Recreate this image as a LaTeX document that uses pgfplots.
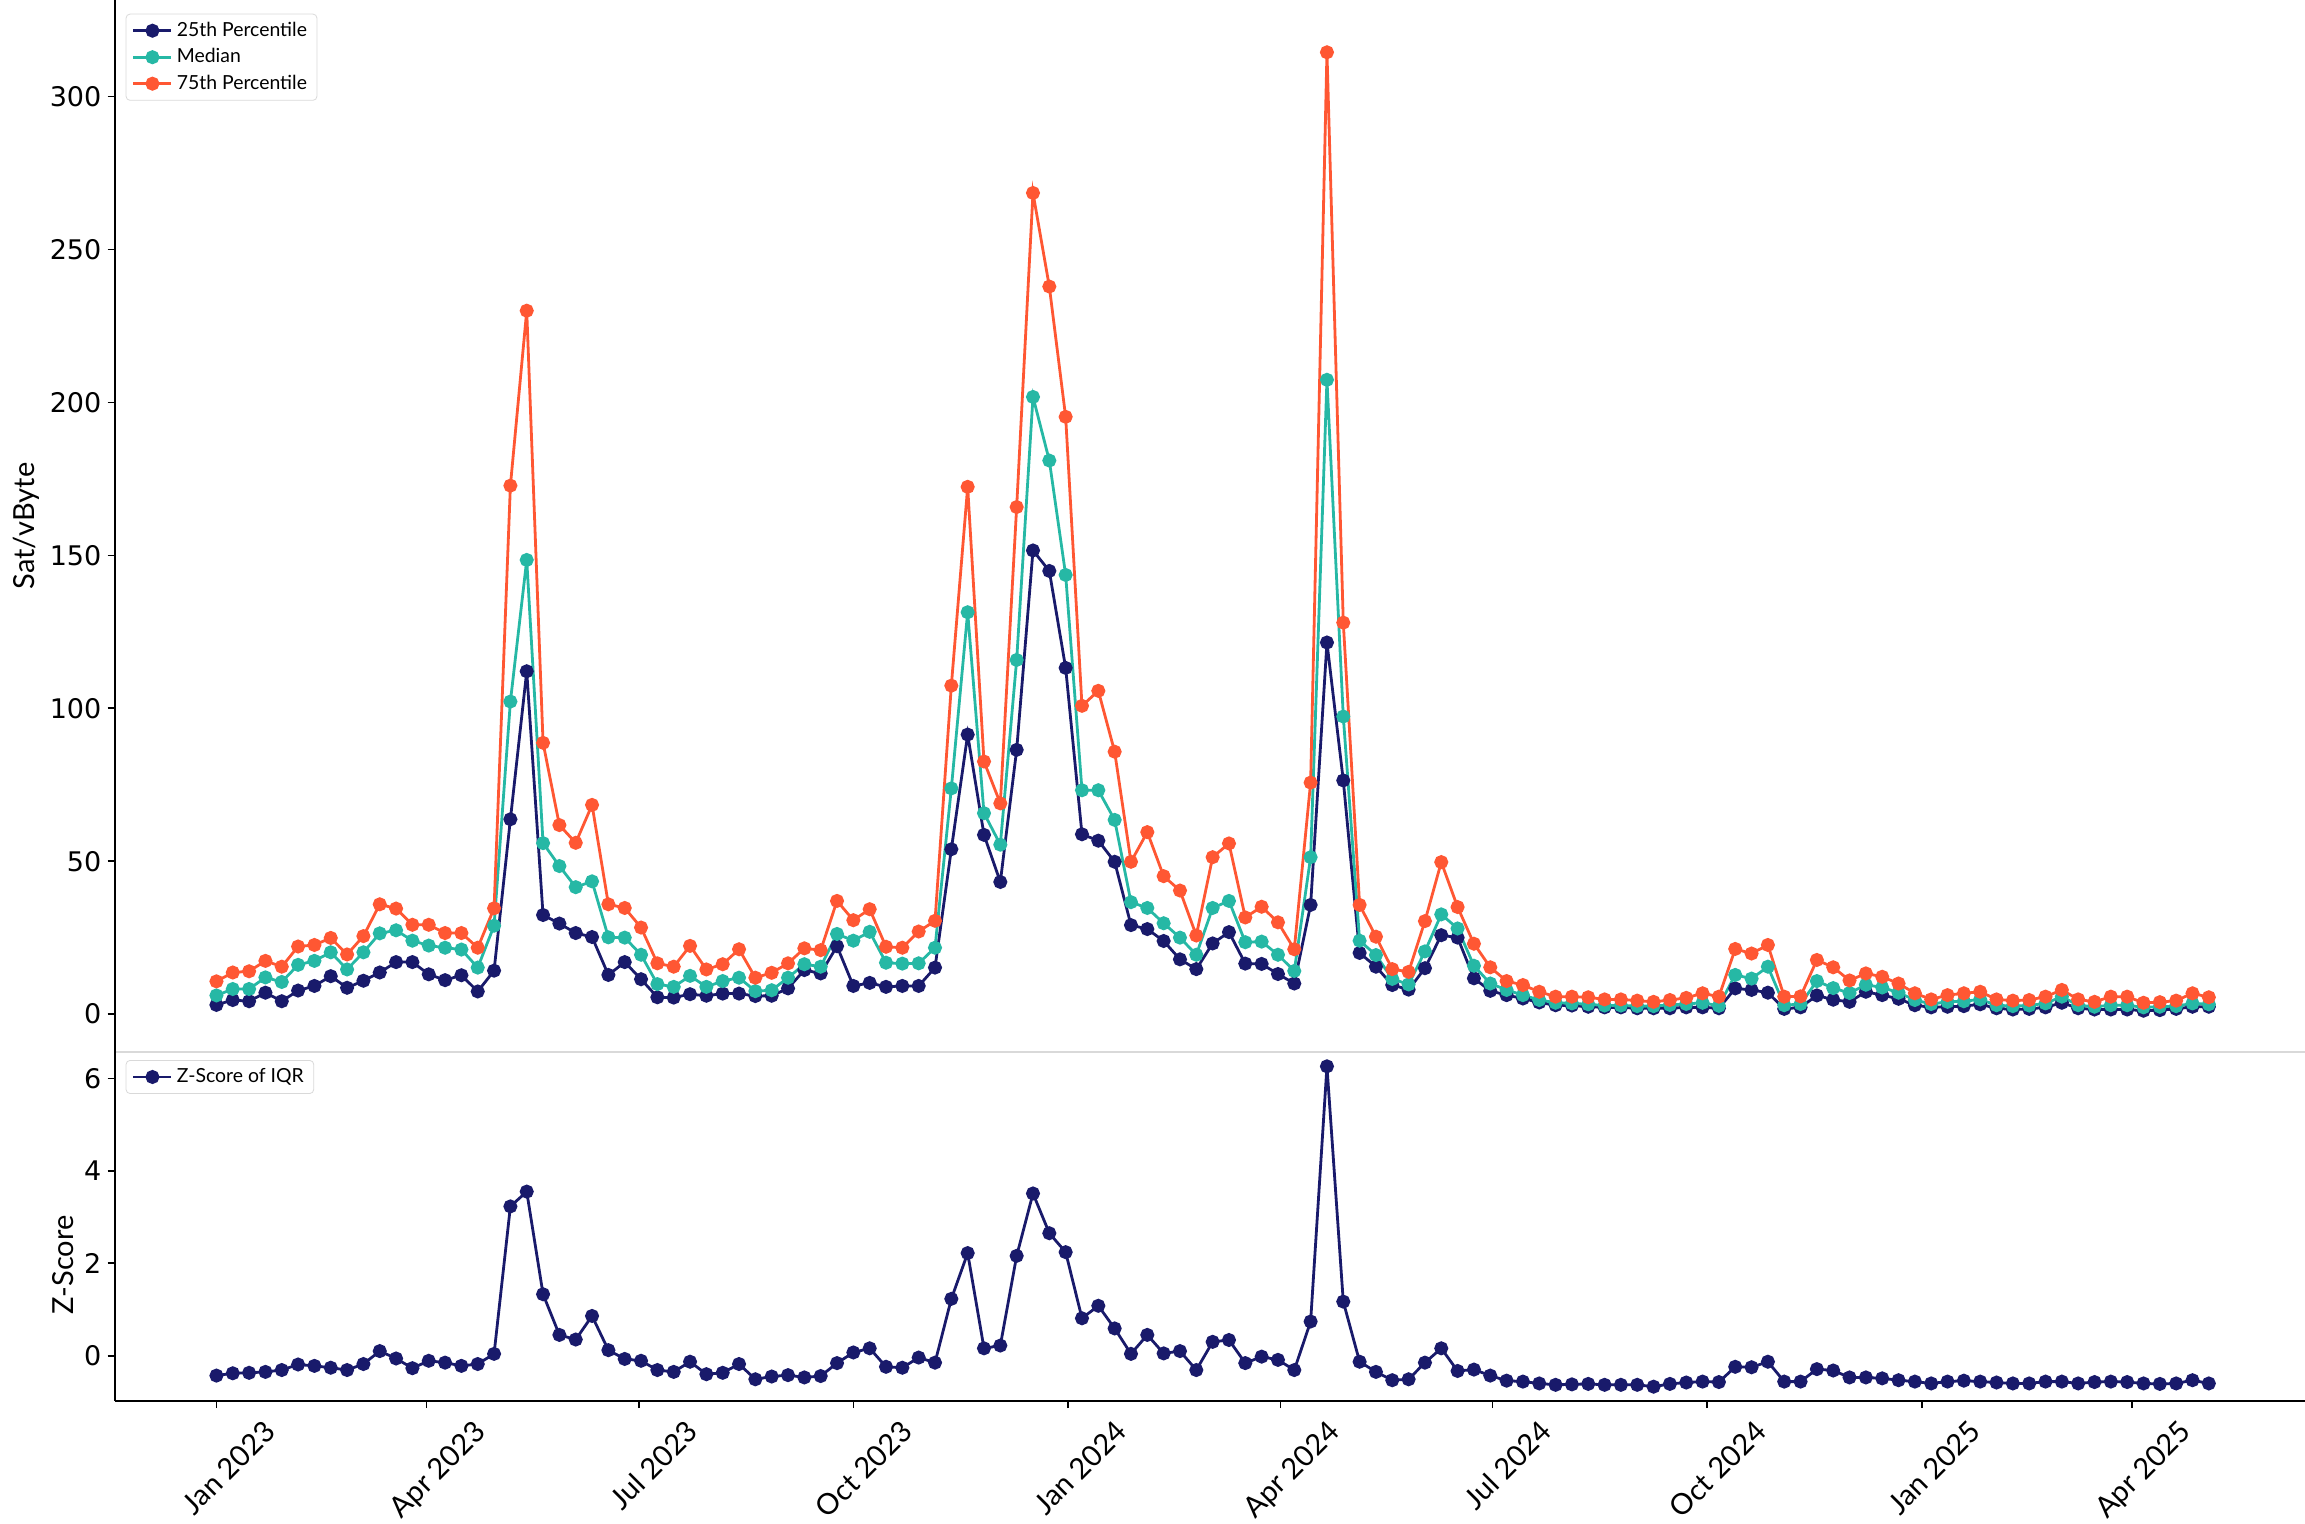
\documentclass[border=0pt]{standalone}
\usepackage{pgfplots}
\usepackage{pgfplotstable}
\pgfplotsset{compat=1.18}
\usepackage{fontspec}
\setmainfont{Lato}
\newfontfamily\dejavu{DejaVu Sans}
\definecolor{cnavy}{HTML}{191A6B}
\definecolor{cteal}{HTML}{26B8A5}
\definecolor{corange}{HTML}{FF5733}

\pgfplotstableread{
i p25 med p75 z
0 3.0 6.1 10.7 -0.43
1 4.6 8.2 13.6 -0.38
2 4.2 8.2 14.0 -0.37
3 7.0 12.0 17.4 -0.35
4 4.2 10.5 15.5 -0.31
5 7.7 16.1 22.1 -0.19
6 9.2 17.4 22.6 -0.22
7 12.4 20.2 24.9 -0.26
8 8.6 14.6 19.5 -0.31
9 10.9 20.2 25.5 -0.18
10 13.6 26.4 35.9 0.10
11 17.0 27.4 34.5 -0.06
12 17.0 24.0 29.2 -0.27
13 13.0 22.4 29.2 -0.11
14 11.1 21.7 26.5 -0.15
15 12.7 21.1 26.5 -0.22
16 7.4 15.2 21.7 -0.18
17 14.2 28.9 34.6 0.04
18 63.7 102.2 172.8 3.23
19 112.1 148.5 230.0 3.55
20 32.4 55.9 88.7 1.33
21 29.6 48.4 61.8 0.45
22 26.5 41.5 56.0 0.35
23 25.2 43.4 68.4 0.86
24 12.8 25.1 35.9 0.12
25 17.0 25.0 34.7 -0.07
26 11.4 19.4 28.3 -0.11
27 5.5 9.8 16.6 -0.31
28 5.4 8.9 15.5 -0.35
29 6.5 12.5 22.3 -0.13
30 6.0 8.9 14.6 -0.40
31 6.7 10.8 16.3 -0.37
32 6.7 11.9 21.2 -0.18
33 5.9 7.5 11.9 -0.51
34 6.0 7.8 13.5 -0.45
35 8.4 11.9 16.6 -0.42
36 14.4 16.3 21.5 -0.47
37 13.3 15.5 20.9 -0.44
38 22.2 26.2 37.0 -0.16
39 9.2 24.0 30.7 0.07
40 10.2 26.9 34.3 0.16
41 8.9 16.8 22.0 -0.24
42 9.2 16.5 21.7 -0.26
43 9.2 16.6 27.0 -0.04
44 15.2 21.7 30.5 -0.15
45 53.9 73.8 107.4 1.23
46 91.4 131.4 172.4 2.22
47 58.6 65.7 82.6 0.16
48 43.2 55.4 68.9 0.22
49 86.4 115.8 165.8 2.16
50 151.6 201.8 268.5 3.51
51 144.9 181.0 237.9 2.65
52 113.2 143.6 195.3 2.24
53 58.8 73.2 100.8 0.81
54 56.7 73.2 105.7 1.08
55 49.8 63.5 85.8 0.59
56 29.1 36.6 49.8 0.04
57 27.8 34.7 59.5 0.45
58 23.9 29.7 45.1 0.05
59 17.9 25.0 40.4 0.10
60 14.7 19.4 25.7 -0.31
61 23.1 34.7 51.3 0.30
62 26.8 37.0 55.8 0.34
63 16.5 23.5 31.6 -0.16
64 16.4 23.7 35.1 -0.02
65 13.1 19.4 30.0 -0.09
66 10.0 14.1 21.2 -0.31
67 35.7 51.3 75.7 0.74
68 121.5 207.4 314.5 6.26
69 76.4 97.3 128.0 1.17
70 20.0 24.0 35.7 -0.13
71 15.5 19.3 25.3 -0.35
72 9.5 11.5 14.7 -0.53
73 8.0 9.7 13.8 -0.51
74 15.0 20.5 30.4 -0.15
75 25.8 32.6 49.7 0.16
76 25.0 28.0 35.0 -0.33
77 11.7 15.8 23.0 -0.30
78 7.6 10.0 15.3 -0.43
79 6.2 7.9 10.8 -0.54
80 5.1 6.2 9.5 -0.56
81 3.8 4.6 7.3 -0.60
82 2.9 3.7 5.7 -0.63
83 2.8 3.5 5.7 -0.62
84 2.4 3.2 5.5 -0.61
85 2.2 2.8 4.8 -0.63
86 2.2 2.8 4.8 -0.63
87 1.9 2.6 4.4 -0.63
88 1.9 2.6 4.0 -0.67
89 1.9 3.0 4.6 -0.61
90 2.2 3.3 5.3 -0.58
91 2.2 3.7 6.8 -0.56
92 1.9 2.7 5.7 -0.57
93 8.4 12.8 21.3 -0.24
94 7.9 11.6 19.8 -0.25
95 7.0 15.5 22.6 -0.13
96 1.7 2.9 5.7 -0.56
97 2.2 3.3 5.8 -0.56
98 6.1 10.8 17.7 -0.29
99 4.7 8.5 15.3 -0.32
100 4.0 6.9 11.0 -0.47
101 7.3 9.6 13.3 -0.47
102 6.2 8.7 12.2 -0.49
103 5.0 7.0 10.0 -0.53
104 2.9 4.6 6.8 -0.56
105 2.2 3.3 4.8 -0.60
106 2.4 4.0 6.2 -0.56
107 2.6 4.2 6.8 -0.54
108 3.2 4.8 7.3 -0.56
109 1.9 2.9 4.8 -0.58
110 1.5 2.6 4.4 -0.60
111 1.7 2.8 4.6 -0.60
112 2.2 3.5 5.7 -0.56
113 3.7 5.7 7.9 -0.56
114 1.9 2.9 4.8 -0.60
115 1.5 2.4 4.0 -0.57
116 1.5 2.9 5.7 -0.56
117 1.5 2.9 5.7 -0.57
118 1.1 2.2 3.7 -0.60
119 1.3 2.4 3.9 -0.61
120 1.7 2.6 4.4 -0.60
121 2.4 3.5 6.8 -0.53
122 2.4 3.2 5.5 -0.60
}\data

\begin{document}
\begin{tikzpicture}
\pgfplotsset{
  base/.style={
    scale only axis, width=1095.15pt,
    xmin=-6.23, xmax=127.89,
    axis lines=left,
    axis line style={-, line width=0.8pt},
    tick style={black, line width=0.8pt},
    major tick length=3.5pt,
    tick align=outside,
    /pgf/number format/assume math mode=true,
    yticklabel style={font=\dejavu\fontsize{13.5}{15}\selectfont, inner sep=1pt, xshift=-2pt},
    legend cell align=left,
    legend image code/.code={
      \draw[mark repeat=2,mark phase=2,##1] plot coordinates {(0pt,0pt) (9.5pt,0pt) (19pt,0pt)};
    },
    every axis plot/.append style={line width=1.4pt, mark=*, mark size=2.8pt},
    clip=false,
  }
}
% top panel
\begin{axis}[base,
  at={(57.35pt,235.5pt)}, anchor=south west,
  height=526pt,
  ymin=-12.4, ymax=331.6,
  ytick={0,50,100,150,200,250,300},
  xtick=\empty,
  x axis line style={draw=gray!30, line width=1.2pt},
  ylabel={Sat/vByte},
  every axis y label/.style={at={(axis description cs:-0.0403,0.5)}, rotate=90, anchor=center, font=\fontsize{14.5}{16}\selectfont},
  legend style={at={(0.005,0.987)}, anchor=north west, font=\fontsize{9.7}{11}\selectfont,
    draw=gray!30, rounded corners=2pt, inner xsep=3pt, inner ysep=2pt, row sep=0.6pt},
]
\addplot[color=cnavy, mark options={fill=cnavy, draw=cnavy}] table[x=i, y=p25] {\data};
\addlegendentry{25th Percentile}
\addplot[color=cteal, mark options={fill=cteal, draw=cteal}] table[x=i, y=med] {\data};
\addlegendentry{Median}
\addplot[color=corange, mark options={fill=corange, draw=corange}] table[x=i, y=p75] {\data};
\addlegendentry{75th Percentile}
\end{axis}
% bottom panel
\begin{axis}[base,
  at={(57.35pt,61pt)}, anchor=south west,
  height=174.5pt,
  ymin=-0.98, ymax=6.57,
  ytick={0,2,4,6},
  xtick={0,12.857,25.857,39,52.143,65.143,78.143,91.286,104.429,117.286},
  xticklabels={Jan 2023,Apr 2023,Jul 2023,Oct 2023,Jan 2024,Apr 2024,Jul 2024,Oct 2024,Jan 2025,Apr 2025},
  xticklabel style={xshift=23pt, yshift=-5pt, rotate=45, anchor=north east, inner sep=0pt, font=\fontsize{14.5}{16}\selectfont},
  ylabel={Z-Score},
  every axis y label/.style={at={(axis description cs:-0.0236,0.39)}, rotate=90, anchor=center, font=\fontsize{14.5}{16}\selectfont},
  legend style={at={(0.005,0.977)}, anchor=north west, font=\fontsize{9.7}{11}\selectfont,
    draw=gray!30, rounded corners=2pt, inner xsep=3pt, inner ysep=2pt},
]
\addplot[color=cnavy, mark options={fill=cnavy, draw=cnavy}] table[x=i, y=z] {\data};
\addlegendentry{Z-Score of IQR}
\end{axis}
\pgfresetboundingbox
\path[use as bounding box] (0,0) rectangle (1152.5pt,761.5pt);
\end{tikzpicture}
\end{document}
